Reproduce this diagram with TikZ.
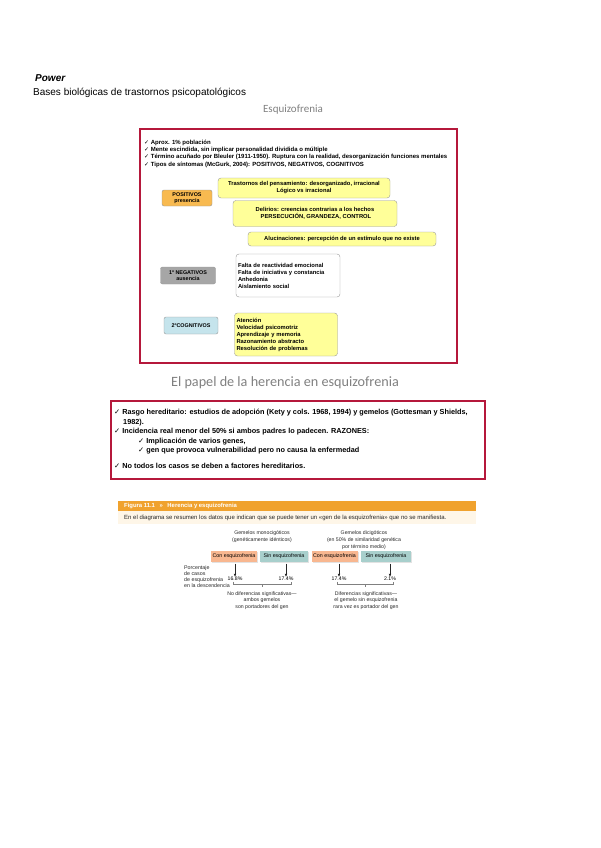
\documentclass[tikz,border=0pt]{standalone}
\usepackage{fontspec}
\setmainfont{Liberation Sans}
\newfontfamily\headfont{Carlito}
\newfontfamily\symfont{DejaVu Sans}
\usetikzlibrary{arrows.meta,shadows}

\newcommand{\chk}{{\symfont\char"2713}\ }
\newcommand{\fs}[2]{\fontsize{#1}{#2}\selectfont}

\definecolor{framered}{HTML}{B5183B}
\definecolor{boxyellow}{HTML}{FFFF99}
\definecolor{posorange}{HTML}{F8BA50}
\definecolor{neggray}{HTML}{A6A6A6}
\definecolor{cogblue}{HTML}{C5E4EC}
\definecolor{figorange}{HTML}{F0A22E}
\definecolor{figcream}{HTML}{FEF6E8}
\definecolor{consalmon}{HTML}{F8B790}
\definecolor{sinteal}{HTML}{A8CFCC}

\begin{document}
\begin{tikzpicture}[x=1pt, y=-1pt,
    frame/.style={draw=framered, line width=1.8pt},
    card/.style={draw=gray!80, rounded corners=3pt, fill=boxyellow, inner sep=2pt,
      font=\fs{5.8}{7}\bfseries},
    tag/.style={draw=gray!80, rounded corners=2pt, inner sep=1pt, align=center,
      font=\fs{5.4}{6.4}\bfseries},
    twin/.style={minimum width=46pt, minimum height=11pt, inner sep=0pt,
      font=\fs{5.3}{6}, drop shadow={shadow xshift=1.2pt, shadow yshift=-1.2pt, fill=gray!45}},
    pct/.style={font=\fs{5.2}{6}, inner sep=0.5pt},
    note/.style={font=\fs{5.2}{6.8}, align=center, text=black!85}]

    \useasboundingbox (0,0) rectangle (600,848);

    % Page heading
    \node[anchor=west, inner sep=0pt, font=\fs{10}{12}\bfseries\itshape] (power) at (35,78) {Power};
    \node[anchor=west, inner sep=0pt, font=\fs{10}{12}] (bases) at (33,93) {Bases biológicas de trastornos psicopatológicos};
    \node[font=\headfont\fs{11}{13}, text=gray] (esq) at (293,110) {Esquizofrenia};

    % First slide
    \draw[frame] (140,129) rectangle (457,363);
    \node[anchor=north west, align=left, inner sep=0pt, font=\fs{6}{7.3}\bfseries] (intro) at (144,139.5)
      {\chk Aprox. 1\% población\\
       \chk Mente escindida, sin implicar personalidad dividida o múltiple\\
       \chk Término acuñado por Bleuler (1911-1950). Ruptura con la realidad, desorganización funciones mentales\\
       \chk Tipos de síntomas (McGurk, 2004): POSITIVOS, NEGATIVOS, COGNITIVOS};

    % Positive symptoms
    \node[tag, fill=posorange, minimum width=50pt, minimum height=16pt] (pos) at (187,198) {POSITIVOS\\presencia};
    \node[card, align=center, minimum width=172pt, minimum height=20pt] (thought) at (304,188)
      {Trastornos del pensamiento: desorganizado, irracional\\Lógico vs irracional};
    \node[card, align=left, minimum width=164pt, minimum height=26pt] (delus) at (315,213.5)
      {Delirios: creencias contrarias a los hechos\\\hspace*{5pt}PERSECUCIÓN, GRANDEZA, CONTROL};
    \node[card, minimum width=188pt, minimum height=14pt] (halluc) at (342,239)
      {Alucinaciones: percepción de un estímulo que no existe};

    % Negative symptoms
    \node[tag, fill=neggray, minimum width=55pt, minimum height=17pt] (neg) at (188,275.5) {1º NEGATIVOS\\ausencia};
    \node[card, fill=white, align=left, text width=100pt, minimum height=43pt] (negl) at (288,275.5)
      {Falta de reactividad emocional\\Falta de iniciativa y constancia\\Anhedonia\\Aislamiento social};

    % Cognitive symptoms
    \node[tag, fill=cogblue, minimum width=54pt, minimum height=17pt] (cog) at (191,325.5) {2ºCOGNITIVOS};
    \node[card, align=left, text width=99pt, minimum height=43pt] (cogl) at (286,334.5)
      {Atención\\Velocidad psicomotriz\\Aprendizaje y memoria\\Razonamiento abstracto\\Resolución de problemas};

    % Second slide
    \node[font=\headfont\fs{14.2}{16}, text=gray] (herencia) at (285,383) {El papel de la herencia en esquizofrenia};
    \draw[frame] (111,401) rectangle (485,479);
    \node[anchor=north west, align=left, inner sep=0pt, font=\fs{7.3}{9.5}\bfseries] (rasgo) at (114,409)
      {\chk Rasgo hereditario: estudios de adopción (Kety y cols. 1968, 1994) y gemelos (Gottesman y Shields,\\
       \hspace*{9pt}1982).\\
       \chk Incidencia real menor del 50\% si ambos padres lo padecen. RAZONES:\\
       \hspace*{24pt}\chk Implicación de varios genes,\\
       \hspace*{24pt}\chk gen que provoca vulnerabilidad pero no causa la enfermedad\\[6.5pt]
       \chk No todos los casos se deben a factores hereditarios.};

    % Figure 11.1
    \fill[figorange] (118,501) rectangle (476,511);
    \fill[figcream] (118,511) rectangle (476,524);
    \node[anchor=west, inner sep=0pt, text=white, font=\fs{5.9}{6}\bfseries] (figtit) at (124,506)
      {Figura 11.1 \enspace» \enspace Herencia y esquizofrenia};
    \node[anchor=west, inner sep=0pt, font=\fs{6}{7}, text=black!85] (figtxt) at (124,517.5)
      {En el diagrama se resumen los datos que indican que se puede tener un «gen de la esquizofrenia» que no se manifiesta.};

    \node[note] (mono) at (262,536.5) {Gemelos monocigóticos\\(genéticamente idénticos)};
    \node[note] (dico) at (364,540) {Gemelos dicigóticos\\(en 50\% de similaridad genética\\por término medio)};

    \node[twin, fill=consalmon] (con1) at (234,556.5) {Con esquizofrenia};
    \node[twin, fill=sinteal, minimum width=48pt] (sin1) at (284,556.5) {Sin esquizofrenia};
    \node[twin, fill=consalmon] (con2) at (334.5,556.5) {Con esquizofrenia};
    \node[twin, fill=sinteal, minimum width=50pt] (sin2) at (386,556.5) {Sin esquizofrenia};

    \node[pct] (p1) at (235,579) {16.8\%};
    \node[pct] (p2) at (286,579) {17.4\%};
    \node[pct] (p3) at (339,579) {17.4\%};
    \node[pct] (p4) at (390,579) {2.1\%};

    \foreach \b/\p in {con1/p1, sin1/p2, con2/p3, sin2/p4}
      \draw[-{Latex[length=3.2pt,width=2.8pt]}, line width=0.9pt, black!85]
        ([yshift=-1.5pt]\b.south -| \p.north) -- ([yshift=-0.5pt]\p.north);

    \node[anchor=west, align=left, inner sep=0pt, font=\fs{5.3}{6}, text=black!85] (leyenda) at (184,577)
      {Porcentaje\\de casos\\de esquizofrenia\\en la descendencia};

    % brackets under the pairs
    \draw[gray, line width=0.5pt] (233,581.5) -- (233,584) -- (291,584) -- (291,581.5);
    \draw[gray, line width=0.5pt] (262,584) -- (262,586.5);
    \draw[gray, line width=0.5pt] (337,581.5) -- (337,584) -- (393,584) -- (393,581.5);
    \draw[gray, line width=0.5pt] (365,584) -- (365,586.5);

    \node[note] (nodif) at (262,600.5) {No diferencias significativas—\\ambos gemelos\\son portadores del gen};
    \node[note] (dif) at (366,600.5) {Diferencias significativas—\\el gemelo sin esquizofrenia\\rara vez es portador del gen};
\end{tikzpicture}
\end{document}
